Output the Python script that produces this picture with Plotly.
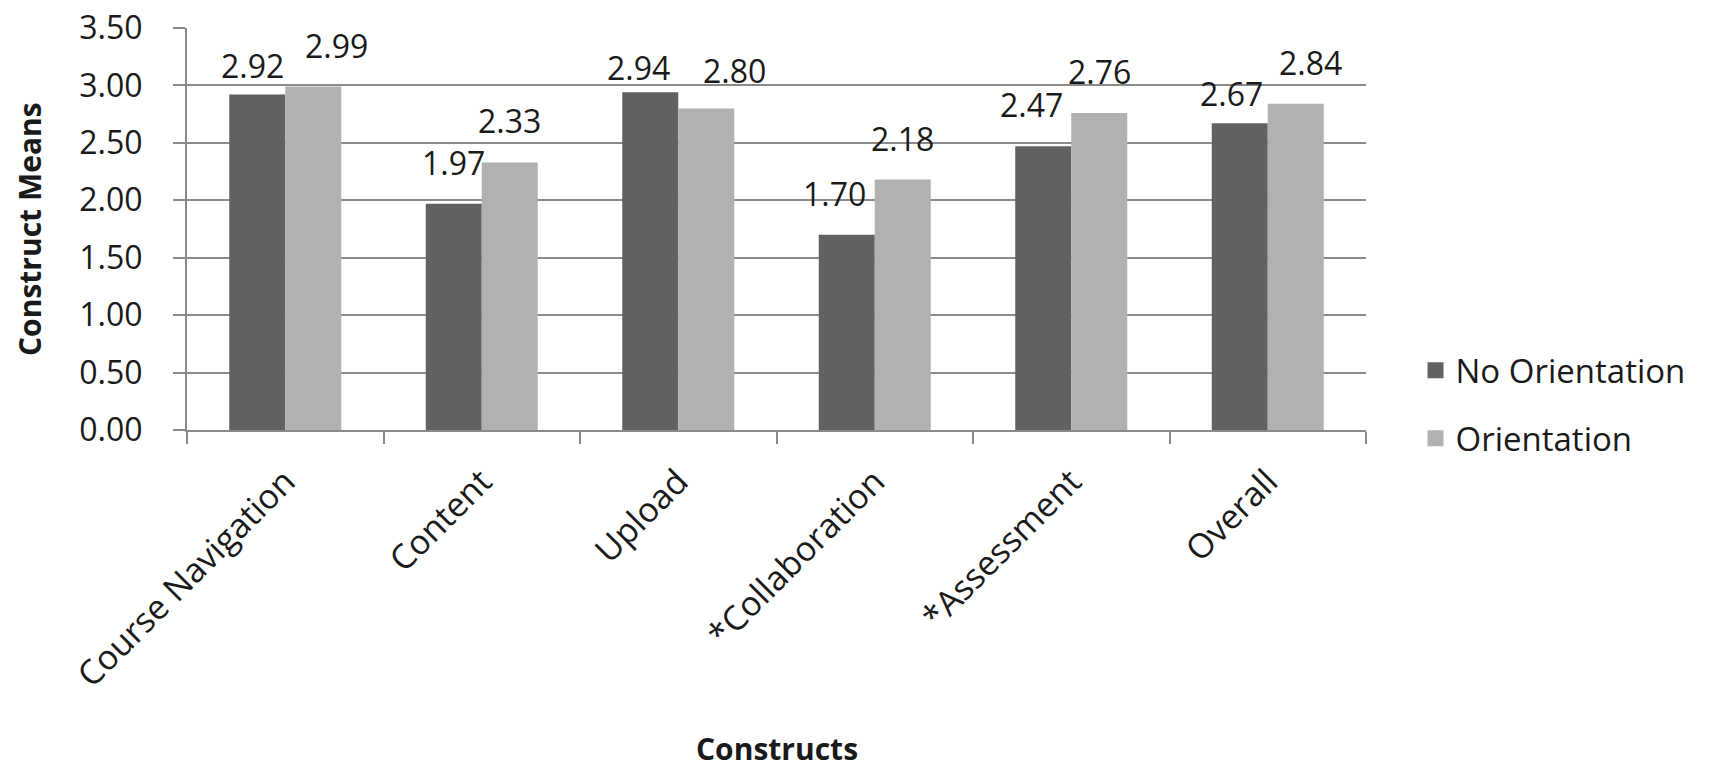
import plotly.graph_objects as go

categories = ["Course Navigation", "Content", "Upload", "*Collaboration", "*Assessment", "Overall"]
no_orientation = [2.92, 1.97, 2.94, 1.70, 2.47, 2.67]
orientation = [2.99, 2.33, 2.80, 2.18, 2.76, 2.84]
series_names = ["No Orientation", "Orientation"]
y_ticks = [0, 0.5, 1.0, 1.5, 2.0, 2.5, 3.0, 3.5]
x_title = "Constructs"
y_title = "Construct Means"

DARK = "#616161"
LIGHT = "#b1b1b1"
GRID = "#8a8a8a"
TXT = "#1a1a1a"
FONT = "Open Sans"

fig = go.Figure()
for name, vals, col in [(series_names[0], no_orientation, DARK), (series_names[1], orientation, LIGHT)]:
    fig.add_trace(go.Bar(x=categories, y=vals, name=name, marker=dict(color=col, line=dict(width=0)),
                         showlegend=False))
    # legend proxy with larger square swatch
    fig.add_trace(go.Scatter(x=[None], y=[None], mode="markers", name=name, legendgroup=name,
                             marker=dict(symbol="square", size=22, color=col)))

# data labels (label nudges are purely stylistic offsets in px)
nudge_dark = {0: (-5, -12), 2: (-12, -17), 3: (-12, 0), 4: (-12, 0), 5: (-8, -12)}
nudge_light = {0: (23, 0), 2: (28, -4), 5: (15, 0)}
for i, c in enumerate(categories):
    for vals, base, nud in [(no_orientation, -28, nudge_dark), (orientation, 28, nudge_light)]:
        dx, dy = nud.get(i, (0, 0))
        fig.add_annotation(x=c, y=vals[i], text=f"{vals[i]:.2f}", showarrow=False,
                           xref="x", yref="y", yanchor="bottom", xanchor="center",
                           xshift=base + dx, yshift=18 + dy,
                           font=dict(family=FONT, size=32, color=TXT))

# axis titles
fig.add_annotation(text=f"<b>{x_title}</b>", xref="paper", yref="paper", x=0.5, y=0,
                   yshift=-318, xanchor="center", yanchor="middle", showarrow=False,
                   font=dict(family=FONT, size=30, color=TXT))
fig.add_annotation(text=f"<b>{y_title}</b>", xref="paper", yref="paper", x=0, y=0.5,
                   xshift=-158, xanchor="center", yanchor="middle", showarrow=False, textangle=-90,
                   font=dict(family=FONT, size=30, color=TXT))

fig.update_layout(
    width=1709, height=770,
    margin=dict(l=187, r=343, t=28, b=340, autoexpand=False),
    plot_bgcolor="white", paper_bgcolor="white",
    barmode="group", bargap=0.43, bargroupgap=0,
    font=dict(family=FONT, size=32, color=TXT),
    legend=dict(x=1.042, y=0.218, xanchor="left", yanchor="top",
                font=dict(family=FONT, size=33, color=TXT),
                tracegroupgap=22, itemsizing="trace", bgcolor="rgba(0,0,0,0)"),
    showlegend=True,
)
fig.update_xaxes(
    type="category", tickangle=-45, tickson="boundaries", ticks="outside", ticklen=12,
    tickcolor=GRID, tickwidth=2, showline=True, linecolor=GRID, linewidth=2,
    tickfont=dict(family=FONT, size=34, color=TXT), automargin=False,
    ticklabelstandoff=16, showgrid=False,
)
fig.update_yaxes(
    range=[0, 3.5], tickvals=y_ticks, tickformat=".2f", ticks="outside", ticklen=12,
    tickcolor=GRID, tickwidth=2, showline=True, linecolor=GRID, linewidth=2,
    showgrid=True, gridcolor=GRID, gridwidth=2, zeroline=False, automargin=False,
    ticklabelstandoff=24,
    tickfont=dict(family=FONT, size=32, color=TXT),
)

fig.write_html("out.html", config={"displayModeBar": False},
               post_script="document.body.style.margin='0';document.body.style.overflow='hidden';")
